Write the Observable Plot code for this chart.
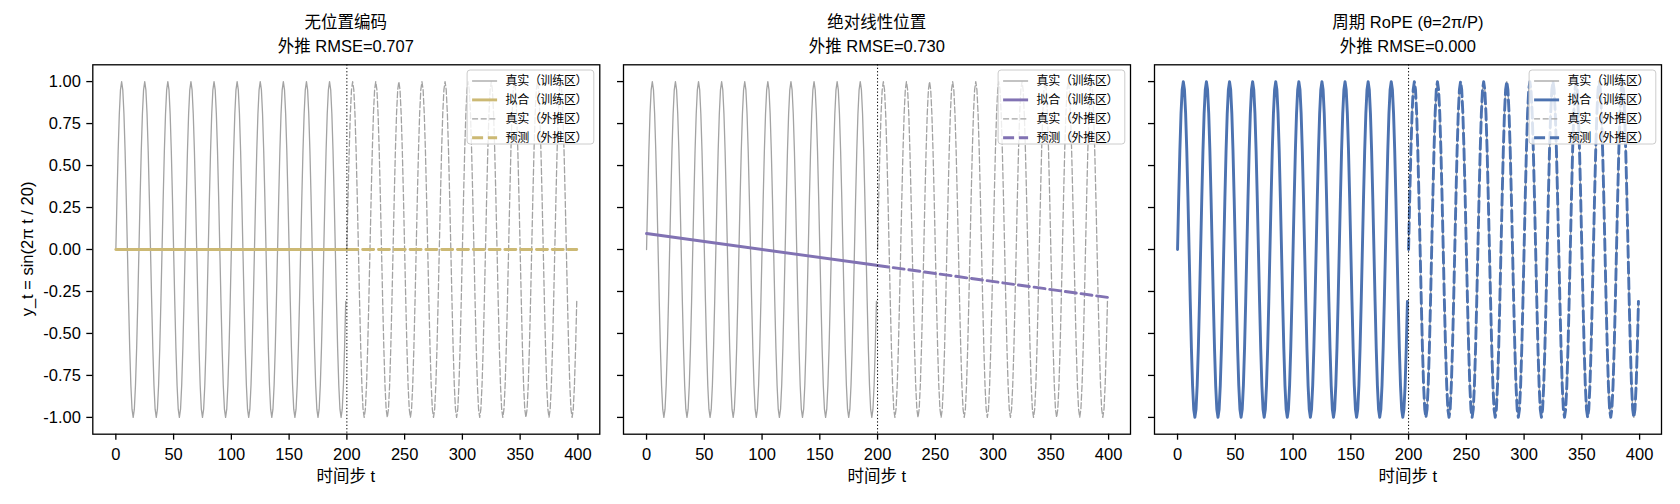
<!DOCTYPE html>
<html>
<head>
<meta charset="utf-8">
<script src="https://cdn.jsdelivr.net/npm/d3@7"></script>
<script src="https://cdn.jsdelivr.net/npm/@observablehq/plot@0.6"></script>
<style>
  html, body { margin: 0; padding: 0; background: #fff; }
  #wrap { position: relative; width: 1680px; height: 504px; overflow: hidden; }
  #wrap > svg { position: absolute; top: 0; }
</style>
</head>
<body>
<div id="wrap"></div>
<script>
// ---------- data ----------
const timeSteps = d3.range(0, 400);           // t = 0 … 399
const trainEnd = 200;                           // train: t < 200, extrapolation: t ≥ 200
// true signal y_t (period 20, amplitude 1)
const trueY = [
  0,0.309,0.588,0.809,0.951,1,0.951,0.809,0.588,0.309,0,-0.309,-0.588,-0.809,-0.951,-1,-0.951,-0.809,-0.588,-0.309,
  0,0.309,0.588,0.809,0.951,1,0.951,0.809,0.588,0.309,0,-0.309,-0.588,-0.809,-0.951,-1,-0.951,-0.809,-0.588,-0.309,
  0,0.309,0.588,0.809,0.951,1,0.951,0.809,0.588,0.309,0,-0.309,-0.588,-0.809,-0.951,-1,-0.951,-0.809,-0.588,-0.309,
  0,0.309,0.588,0.809,0.951,1,0.951,0.809,0.588,0.309,0,-0.309,-0.588,-0.809,-0.951,-1,-0.951,-0.809,-0.588,-0.309,
  0,0.309,0.588,0.809,0.951,1,0.951,0.809,0.588,0.309,0,-0.309,-0.588,-0.809,-0.951,-1,-0.951,-0.809,-0.588,-0.309,
  0,0.309,0.588,0.809,0.951,1,0.951,0.809,0.588,0.309,0,-0.309,-0.588,-0.809,-0.951,-1,-0.951,-0.809,-0.588,-0.309,
  0,0.309,0.588,0.809,0.951,1,0.951,0.809,0.588,0.309,0,-0.309,-0.588,-0.809,-0.951,-1,-0.951,-0.809,-0.588,-0.309,
  0,0.309,0.588,0.809,0.951,1,0.951,0.809,0.588,0.309,0,-0.309,-0.588,-0.809,-0.951,-1,-0.951,-0.809,-0.588,-0.309,
  0,0.309,0.588,0.809,0.951,1,0.951,0.809,0.588,0.309,0,-0.309,-0.588,-0.809,-0.951,-1,-0.951,-0.809,-0.588,-0.309,
  0,0.309,0.588,0.809,0.951,1,0.951,0.809,0.588,0.309,0,-0.309,-0.588,-0.809,-0.951,-1,-0.951,-0.809,-0.588,-0.309,
  0,0.309,0.588,0.809,0.951,1,0.951,0.809,0.588,0.309,0,-0.309,-0.588,-0.809,-0.951,-1,-0.951,-0.809,-0.588,-0.309,
  0,0.309,0.588,0.809,0.951,1,0.951,0.809,0.588,0.309,0,-0.309,-0.588,-0.809,-0.951,-1,-0.951,-0.809,-0.588,-0.309,
  0,0.309,0.588,0.809,0.951,1,0.951,0.809,0.588,0.309,0,-0.309,-0.588,-0.809,-0.951,-1,-0.951,-0.809,-0.588,-0.309,
  0,0.309,0.588,0.809,0.951,1,0.951,0.809,0.588,0.309,0,-0.309,-0.588,-0.809,-0.951,-1,-0.951,-0.809,-0.588,-0.309,
  0,0.309,0.588,0.809,0.951,1,0.951,0.809,0.588,0.309,0,-0.309,-0.588,-0.809,-0.951,-1,-0.951,-0.809,-0.588,-0.309,
  0,0.309,0.588,0.809,0.951,1,0.951,0.809,0.588,0.309,0,-0.309,-0.588,-0.809,-0.951,-1,-0.951,-0.809,-0.588,-0.309,
  0,0.309,0.588,0.809,0.951,1,0.951,0.809,0.588,0.309,0,-0.309,-0.588,-0.809,-0.951,-1,-0.951,-0.809,-0.588,-0.309,
  0,0.309,0.588,0.809,0.951,1,0.951,0.809,0.588,0.309,0,-0.309,-0.588,-0.809,-0.951,-1,-0.951,-0.809,-0.588,-0.309,
  0,0.309,0.588,0.809,0.951,1,0.951,0.809,0.588,0.309,0,-0.309,-0.588,-0.809,-0.951,-1,-0.951,-0.809,-0.588,-0.309,
  0,0.309,0.588,0.809,0.951,1,0.951,0.809,0.588,0.309,0,-0.309,-0.588,-0.809,-0.951,-1,-0.951,-0.809,-0.588,-0.309
];
// model fits: endpoints of the fitted / predicted lines (panels 1 & 2)
const fitT  = [0, 199];
const predT = [200, 399];
const fitNoPE   = [0, 0];
const predNoPE  = [0, 0];
const fitLinear  = [0.095, -0.094];
const predLinear = [-0.095, -0.285];
// panel texts
const panelTitles = ["无位置编码", "绝对线性位置", "周期 RoPE (θ=2π/P)"];
const panelRMSE   = ["0.707", "0.730", "0.000"];
const panelColors = ["#CCB974", "#8172B3", "#4C72B0"];
const legendLabels = ["真实（训练区）", "拟合（训练区）", "真实（外推区）", "预测（外推区）"];
const xTicks = [0, 50, 100, 150, 200, 250, 300, 350, 400];
const yTicks = [-1, -0.75, -0.5, -0.25, 0, 0.25, 0.5, 0.75, 1];
const xLabel = "时间步 t";
const yLabel = "y_t = sin(2π t / 20)";

// ---------- build ----------
const FONT = '"Liberation Sans", "Noto Sans CJK SC", sans-serif';
const CJK = '"Noto Sans CJK SC", "Liberation Sans", sans-serif';
const GRAY = "#a3a3a3";
const rows = timeSteps.map((t, i) => ({t, y: trueY[i]}));
const trainRows = rows.filter(d => d.t < trainEnd);
const extraRows = rows.filter(d => d.t >= trainEnd);
const toRows = (ts, ys) => ts.map((t, i) => ({t, y: ys[i]}));
const fits = [
  [toRows(fitT, fitNoPE), toRows(predT, predNoPE)],
  [toRows(fitT, fitLinear), toRows(predT, predLinear)],
  [trainRows, extraRows]
];

const frameLefts = [92.3, 623.3, 1154.3];
const frameW = 507;
const frameTop = 64.3, frameBottom = 433.7;
const H = 504;
const wrap = document.getElementById("wrap");

frameLefts.forEach((L, i) => {
  const mL = i === 0 ? L : 40;
  const svgLeft = L - mL;
  const mR = 12;
  const color = panelColors[i];
  const chart = Plot.plot({
    width: mL + frameW + mR,
    height: H,
    marginLeft: mL, marginRight: mR,
    marginTop: frameTop, marginBottom: H - frameBottom,
    x: {domain: [-19.95, 418.95]},
    y: {domain: [-1.1, 1.1]},
    style: {fontFamily: FONT, fontSize: "16.5px", color: "black", background: "transparent", overflow: "visible"},
    marks: [
      Plot.line(trainRows, {x: "t", y: "y", stroke: GRAY, strokeWidth: 1.3}),
      Plot.line(fits[i][0], {x: "t", y: "y", stroke: color, strokeWidth: 2.9}),
      Plot.line(extraRows, {x: "t", y: "y", stroke: GRAY, strokeWidth: 1.3, strokeDasharray: "6,2.6"}),
      Plot.line(fits[i][1], {x: "t", y: "y", stroke: color, strokeWidth: 2.9, strokeDasharray: "11,4.8"}),
      Plot.ruleX([trainEnd], {stroke: "black", strokeWidth: 1, strokeDasharray: "1.3,2.1"}),
      Plot.axisX({ticks: xTicks, tickSize: 6, tickPadding: 8, tickFormat: d => String(d), label: null, strokeWidth: 1.3}),
      Plot.axisY({ticks: yTicks, tickSize: 6, tickPadding: 6,
                  tickFormat: i === 0 ? (d => d.toFixed(2)) : (() => ""), label: null, strokeWidth: 1.3}),
      Plot.frame({stroke: "black", strokeWidth: 1.3})
    ]
  });
  chart.style.left = svgLeft + "px";
  wrap.appendChild(chart);
});

// ---------- overlay: titles, axis labels, legends ----------
const ov = d3.select(wrap).append("svg")
  .attr("width", 1680).attr("height", H)
  .style("left", "0px").style("top", "0px").style("position", "absolute");

frameLefts.forEach((L, i) => {
  const cx = L + frameW / 2;
  const color = panelColors[i];
  ov.append("text").attr("x", cx).attr("y", 28).attr("text-anchor", "middle")
    .style("font-family", FONT).style("font-size", "16.5px").text(panelTitles[i]);
  ov.append("text").attr("x", cx).attr("y", 51.5).attr("text-anchor", "middle")
    .style("font-family", FONT).style("font-size", "16.5px").text("外推 RMSE=" + panelRMSE[i]);
  ov.append("text").attr("x", cx).attr("y", 482).attr("text-anchor", "middle")
    .style("font-family", FONT).style("font-size", "16.5px").text(xLabel);

  // legend
  const bw = 126.7, bh = 74;
  const bx = L + frameW - 5.5 - bw, by = 70;
  const g = ov.append("g");
  g.append("rect").attr("x", bx).attr("y", by).attr("width", bw).attr("height", bh)
    .attr("rx", 3).attr("fill", "white").attr("fill-opacity", 0.8)
    .attr("stroke", "#cccccc").attr("stroke-width", 1);
  const styles = [
    {stroke: GRAY, w: 1.3, dash: null},
    {stroke: color, w: 2.9, dash: null},
    {stroke: GRAY, w: 1.3, dash: "6,2.6"},
    {stroke: color, w: 2.9, dash: "11,4.8"}
  ];
  legendLabels.forEach((lab, k) => {
    const yy = by + 11 + k * 18.9;
    const ln = g.append("line").attr("x1", bx + 5).attr("x2", bx + 30).attr("y1", yy).attr("y2", yy)
      .attr("stroke", styles[k].stroke).attr("stroke-width", styles[k].w);
    if (styles[k].dash) ln.attr("stroke-dasharray", styles[k].dash);
    g.append("text").attr("x", bx + 38.5).attr("y", yy + 4.3)
      .attr("textLength", 82).attr("lengthAdjust", "spacing")
      .style("font-family", CJK).style("font-size", "12px").text(lab);
  });
});

ov.append("text")
  .attr("transform", `translate(32.5, ${(frameTop + frameBottom) / 2}) rotate(-90)`)
  .attr("text-anchor", "middle")
  .style("font-family", FONT).style("font-size", "16.5px").text(yLabel);
</script>
</body>
</html>
